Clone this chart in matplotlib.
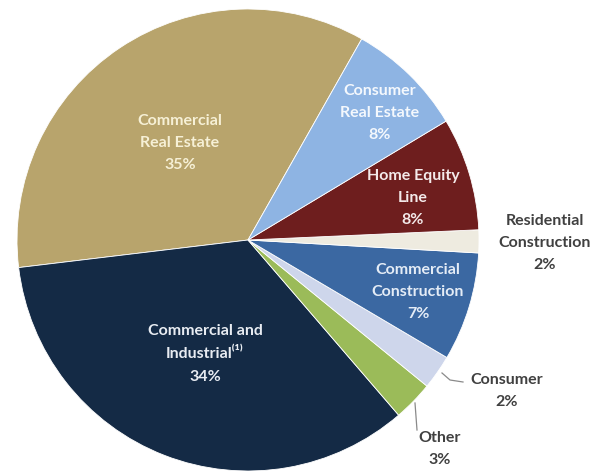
#!/usr/bin/env python3
"""
Loan portfolio composition pie chart
"""
import matplotlib
matplotlib.use("Agg")
import matplotlib.pyplot as plt

# slice data, counterclockwise from the top of the tan slice
categories = ["Commercial Real Estate", "Commercial and Industrial", "Other", "Consumer",
              "Commercial Construction", "Residential Construction", "Home Equity Line",
              "Consumer Real Estate"]
shares = [35.1, 34.4, 2.8, 2.4, 7.6, 1.6, 7.9, 8.2]
label_texts = ["Commercial\nReal Estate\n35%",
               "Commercial and\nIndustrial\u207d\u00b9\u207e\n34%",
               "Other\n3%",
               "Consumer\n2%",
               "Commercial\nConstruction\n7%",
               "Residential\nConstruction\n2%",
               "Home Equity\nLine\n8%",
               "Consumer\nReal Estate\n8%"]

slice_colors = ["#B8A46C", "#142A45", "#9BBB59", "#CED6EB",
                "#3B68A2", "#EEEBE0", "#6E1E1E", "#8EB4E3"]
text_colors = ["#F6F0D6", "#E8ECF2", "#404040", "#404040",
               "#E4ECF6", "#404040", "#F4EAEA", "#F4F8FD"]
# label centres in pixel space (x, y from top)
label_pos = [(180, 143), (205, 354), (440, 449), (507, 391),
             (418, 292), (545, 243), (413, 198), (380, 113)]

W, H = 603, 471
fig = plt.figure(figsize=(W / 100, H / 100), dpi=100)
ax = fig.add_axes([0, 0, 1, 1])

cx, cy, r = 248, H - 240, 231
ax.pie(shares, colors=slice_colors, startangle=60.5, counterclock=True,
       center=(cx, cy), radius=r, frame=True,
       wedgeprops=dict(edgecolor="white", linewidth=0.6))
ax.set_xlim(0, W)
ax.set_ylim(0, H)
ax.set_aspect("equal")
ax.axis("off")

for txt, (x, y), c in zip(label_texts, label_pos, text_colors):
    ax.text(x, H - y, txt, ha="center", va="center", color=c, fontsize=11.5,
            fontweight="bold", family=["Lato", "DejaVu Sans"], linespacing=1.75)

# leader lines for the small outside labels
ax.plot([442, 450, 463], [H - 373, H - 380, H - 382], color="#8a8a8a", lw=0.9)
ax.plot([415, 417], [H - 403, H - 430], color="#8a8a8a", lw=0.9)

fig.savefig("out.png", dpi=100)
